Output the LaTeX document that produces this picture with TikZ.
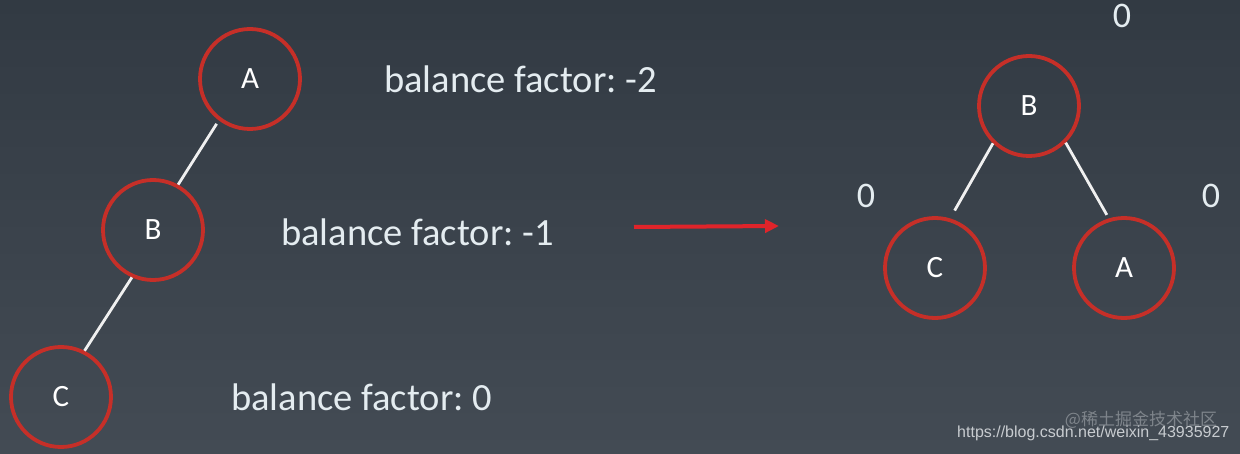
\documentclass[tikz,border=0pt]{standalone}
\usepackage{fontspec}
\setmainfont{Carlito}
\newfontfamily\wmfont{Liberation Sans}
\newfontfamily\cjk{Noto Sans CJK SC}
\usetikzlibrary{arrows.meta}
\definecolor{bgtop}{HTML}{323A43}
\definecolor{bgbot}{HTML}{434B54}
\definecolor{ringred}{HTML}{C62F28}
\definecolor{arrowred}{HTML}{E0242A}
\definecolor{txt}{HTML}{E4ECF0}
\definecolor{wmgray}{HTML}{C8CCD0}
\tikzset{
  treenode/.style={circle, draw=ringred, line width=3.8pt, minimum size=100pt, inner sep=0pt, text=white, font=\fontsize{31}{31}\selectfont},
  edge/.style={draw=white!94!black, line width=2.8pt},
  bflabel/.style={text=txt, font=\frenchspacing\fontsize{38.5}{38.5}\selectfont, anchor=west, inner sep=0pt},
  zero/.style={text=txt, font=\fontsize{36}{36}\selectfont, inner sep=0pt},
}
\begin{document}
\begin{tikzpicture}[x=1pt,y=1pt]
\shade[top color=bgtop, bottom color=bgbot] (0,0) rectangle (1240,453);
\useasboundingbox (0,0) rectangle (1240,453);
% left tree
\node[treenode] (A1) at (250,374) {A};
\node[treenode] (B1) at (153,223) {B};
\node[treenode] (C1) at (61,56) {C};
\draw[edge, shorten <=4pt] (A1.233) -- (B1.61);
\draw[edge] (B1.246) -- (C1.63);
\node[bflabel] (L1) at (384,374) {balance factor: -2};
\node[bflabel] (L2) at (281,221) {balance factor: -1};
\node[bflabel] (L3) at (231,56) {balance factor: 0};
% arrow
\coordinate (ar1) at (634,226);
\coordinate (ar2) at (779,227);
\draw[arrowred, line width=4pt, -{Triangle[length=14pt,width=13pt]}] (ar1) -- (ar2);
% right tree
\node[treenode] (B2) at (1029,347) {B};
\node[treenode] (C2) at (935,185) {C};
\node[treenode] (A2) at (1124,185) {A};
\draw[edge, shorten >=9pt] (B2.226) -- (C2.73);
\draw[edge, shorten >=4pt] (B2.315) -- (A2.107);
\node[zero] (z1) at (1122,437) {0};
\node[zero] (z2) at (866,257) {0};
\node[zero] (z3) at (1211,257) {0};
% watermark
\node[text=wmgray, opacity=0.45, font=\cjk\fontsize{17}{17}\selectfont, inner sep=0pt] (wm2) at (1141,33) {@稀土掘金技术社区};
\node[text=wmgray, font=\wmfont\fontsize{16}{16}\selectfont, inner sep=0pt, anchor=west] (wm1) at (957,20) {https://blog.csdn.net/weixin\_43935927};
\end{tikzpicture}
\end{document}
